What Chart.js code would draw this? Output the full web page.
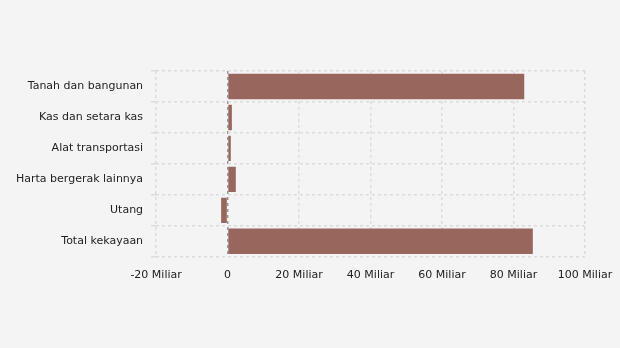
<!DOCTYPE html>
<html>
<head>
<meta charset="utf-8">
<script src="https://cdn.jsdelivr.net/npm/chart.js@4"></script>
<style>
  body { margin: 0; background: #f4f4f4; }
  #wrap { width: 620px; height: 348px; }
</style>
</head>
<body>
<div id="wrap"><canvas id="myChart" width="620" height="348"></canvas></div>
<script>
const categories = ["Tanah dan bangunan", "Kas dan setara kas", "Alat transportasi", "Harta bergerak lainnya", "Utang", "Total kekayaan"];
const values = [83.0, 1.2, 0.9, 2.3, -1.8, 85.4]; // miliar rupiah
const xMin = -20;
const xMax = 100;

new Chart("myChart", {
  type: "bar",
  data: {
    labels: categories,
    datasets: [
      {
        data: values,
        backgroundColor: "#98665c",
        borderWidth: 0,
        categoryPercentage: 1,
        barPercentage: 0.82
      }
    ]
  },
  options: {
    indexAxis: "y",
    responsive: false,
    animation: false,
    layout: { padding: { top: 71, right: 35, bottom: 54, left: 8 } },
    plugins: {
      legend: { display: false },
      tooltip: { enabled: false }
    },
    scales: {
      x: {
        min: xMin,
        max: xMax,
        afterFit: (scale) => {
          scale.paddingRight = 0;
        },
        ticks: {
          stepSize: 20,
          color: "#222",
          font: { family: "DejaVu Sans", size: 11 },
          padding: 12,
          callback: (v) => (v === 0 ? "0" : v + " Miliar")
        },
        grid: {
          color: (ctx) => (ctx.tick && ctx.tick.value === 0 ? "#999" : "#dcdcdc"),
          lineWidth: 1.5,
          drawTicks: false
        },
        border: { display: false, dash: [3, 3] }
      },
      y: {
        ticks: {
          color: "#222",
          font: { family: "DejaVu Sans", size: 11 },
          padding: 8
        },
        grid: {
          color: "#dcdcdc",
          lineWidth: 1.5,
          offset: true,
          tickLength: 5
        },
        border: { display: false, dash: [3, 3] }
      }
    }
  }
});
</script>
</body>
</html>
